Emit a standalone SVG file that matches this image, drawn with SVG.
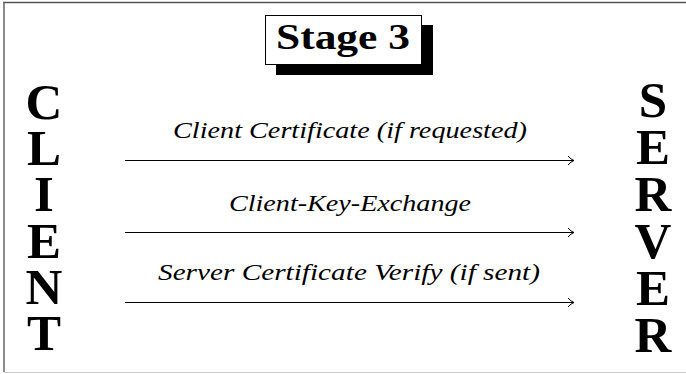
<svg xmlns="http://www.w3.org/2000/svg" width="686" height="374" viewBox="0 0 686 374">
<defs>
<style>
.big{font-family:"Liberation Serif","DejaVu Serif",serif;font-weight:bold;font-size:51px;text-anchor:middle;fill:#000}
.lbl{font-family:"Liberation Serif","DejaVu Serif",serif;font-style:italic;font-size:23px;text-anchor:middle;fill:#000}
.title{font-family:"Liberation Serif","DejaVu Serif",serif;font-weight:bold;font-size:36px;text-anchor:middle;fill:#000}
.conn{stroke:#000;stroke-width:1.1;fill:none}
</style>
<marker id="arr" markerWidth="10" markerHeight="12" refX="8" refY="6" orient="auto" markerUnits="userSpaceOnUse">
<path d="M2,1.5 Q5,5 8,6 Q5,7 2,10.5" fill="none" stroke="#000" stroke-width="1"/>
</marker>
</defs>
<rect width="686" height="374" fill="#fff"/>
<line x1="3" y1="2.5" x2="686" y2="2.5" stroke="#555" stroke-width="1.5"/>
<line x1="4" y1="2" x2="4" y2="372" stroke="#666" stroke-width="1.5"/>
<line x1="4" y1="372.5" x2="686" y2="372.5" stroke="#ccc" stroke-width="1"/>
<g id="title">
<rect x="276" y="25" width="157" height="50" fill="#000"/>
<rect x="265.5" y="15.5" width="156" height="49" fill="#fff" stroke="#000" stroke-width="1"/>
<text class="title" x="343" y="49" textLength="134" lengthAdjust="spacingAndGlyphs">Stage 3</text>
</g>
<g id="client">
<text class="big"><tspan x="44" y="119">C</tspan><tspan x="44" y="165">L</tspan><tspan x="44" y="211">I</tspan><tspan x="44" y="258">E</tspan><tspan x="44" y="304">N</tspan><tspan x="44" y="350">T</tspan></text>
</g>
<g id="server">
<text class="big"><tspan x="653" y="117">S</tspan><tspan x="653" y="164">E</tspan><tspan x="653" y="211">R</tspan><tspan x="653" y="258">V</tspan><tspan x="653" y="305">E</tspan><tspan x="653" y="352">R</tspan></text>
</g>
<g id="connectors">
<line class="conn" x1="125" y1="160.5" x2="574" y2="160.5" marker-end="url(#arr)"/>
<line class="conn" x1="125" y1="232.5" x2="574" y2="232.5" marker-end="url(#arr)"/>
<line class="conn" x1="125" y1="302.5" x2="574" y2="302.5" marker-end="url(#arr)"/>
<text class="lbl" x="350" y="138" textLength="354" lengthAdjust="spacingAndGlyphs">Client Certificate (if requested)</text>
<text class="lbl" x="350" y="211" textLength="242" lengthAdjust="spacingAndGlyphs">Client-Key-Exchange</text>
<text class="lbl" x="349" y="280" textLength="382" lengthAdjust="spacingAndGlyphs">Server Certificate Verify (if sent)</text>
</g>
</svg>
